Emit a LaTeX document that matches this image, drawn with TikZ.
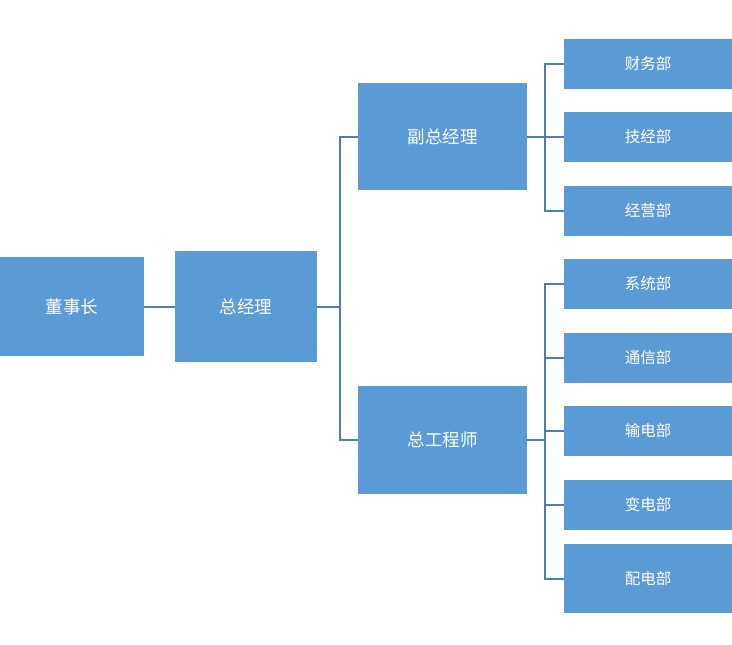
\documentclass[tikz,border=0pt]{standalone}
\usepackage{fontspec}
\usepackage{tikz}
\usetikzlibrary{positioning}
\newfontfamily\cjk{Noto Sans CJK SC}
\definecolor{boxblue}{HTML}{5B9BD5}
\definecolor{lineblue}{HTML}{4A7EBB}
\tikzset{
  orgbox/.style={
    fill=boxblue, draw=none, text=white, inner sep=0pt,
    align=center, font=\cjk\fontsize{17.5}{20}\selectfont},
  deptbox/.style={
    orgbox, minimum width=168pt, minimum height=50pt,
    font=\cjk\fontsize{15.5}{18}\selectfont},
  orgline/.style={line width=2pt, color=lineblue},
}

\begin{document}
\begin{tikzpicture}[x=1pt, y=-1pt]
  \useasboundingbox (0,0) rectangle (732,645);
  % left part
  \node[orgbox, minimum width=144pt, minimum height=99pt]  (dsz) at (72,306.5)  {董事长};
  \node[orgbox, minimum width=142pt, minimum height=111pt] (zjl) at (246,306.5) {总经理};
  \node[orgbox, minimum width=169pt, minimum height=107pt] (fz)  at (442.5,136.5) {副总经理};
  \node[orgbox, minimum width=169pt, minimum height=108pt] (zg)  at (442.5,440) {总工程师};
  % departments
  \node[deptbox] (cw) at (648,63.5) {财务部};
  \node[deptbox] (jj) at (648,137)  {技经部};
  \node[deptbox] (jy) at (648,211)  {经营部};
  \node[deptbox] (xt) at (648,284)  {系统部};
  \node[deptbox] (tx) at (648,358)  {通信部};
  \node[deptbox] (sd) at (648,431)  {输电部};
  \node[deptbox] (bd) at (648,505)  {变电部};
  \node[deptbox, minimum height=69pt] (pd) at (648,578.5) {配电部};
  % connectors
  \draw[orgline] (dsz.east) -- (zjl.west);
  \draw[orgline] (zjl.east) -- ++(23,0) coordinate (zjlfork);
  \draw[orgline] (zjlfork) |- (fz.west);
  \draw[orgline] (zjlfork) |- (zg.west);
  \draw[orgline] (fz.east) -- ++(18,0) coordinate (fzfork);
  \foreach \d in {cw,jj,jy}
    \draw[orgline] (fzfork) |- (\d.west);
  \draw[orgline] (zg.east) -- ++(18,0) coordinate (zgfork);
  \foreach \d in {xt,tx,sd,bd,pd}
    \draw[orgline] (zgfork) |- (\d.west);
\end{tikzpicture}
\end{document}
